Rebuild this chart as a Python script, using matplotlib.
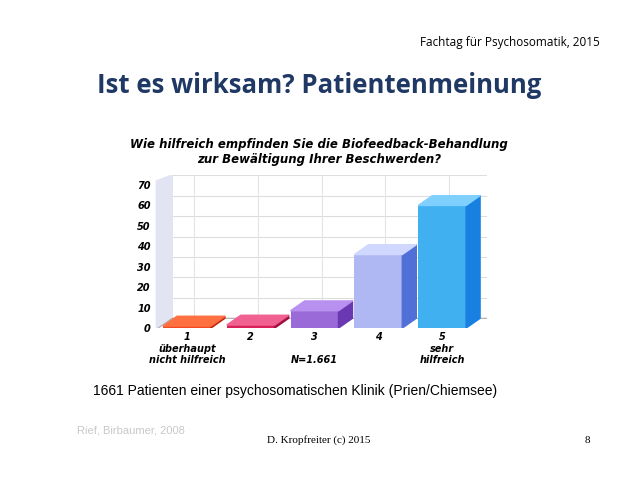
import matplotlib
matplotlib.use("Agg")
import matplotlib.pyplot as plt

categories = ["1\nüberhaupt\nnicht hilfreich", "2", "3\n\nN=1.661", "4", "5\nsehr\nhilfreich"]
values = [1.0, 1.5, 8.5, 36, 60]
yticks = [0, 10, 20, 30, 40, 50, 60, 70]
front = ["#f04a20", "#d8205a", "#9a6ad8", "#b0b8f4", "#40b0f0"]
side = ["#c02810", "#a01040", "#6a38b0", "#5070d8", "#1880e0"]
topc = ["#ff7040", "#f06090", "#b890f0", "#d0d8ff", "#80d0ff"]

fig = plt.figure(figsize=(6.38, 4.79), dpi=100)
fig.patch.set_facecolor("white")
fig.text(0.94, 0.905, "Fachtag für Psychosomatik, 2015", ha="right", fontsize=8.5, family="Open Sans")
fig.text(0.5, 0.805, "Ist es wirksam? Patientenmeinung", ha="center", fontsize=18.5,
         color="#1f3864", weight="bold", family="Open Sans")
fig.text(0.5, 0.66, "Wie hilfreich empfinden Sie die Biofeedback-Behandlung\nzur Bewältigung Ihrer Beschwerden?",
         ha="center", fontsize=8.5, weight="bold", style="italic", family="DejaVu Sans", linespacing=1.2)

ax = fig.add_axes([0.243, 0.315, 0.52, 0.32])
dx, dy, w = 0.22, 4.8, 0.75
x = list(range(1, 6))
ax.set_xlim(0.5, 5.7)
ax.set_ylim(0, 75)
for t in yticks[1:]:
    ax.plot([0.55 + dx, 5.7], [t + dy, t + dy], color="#dddddd", lw=0.8, zorder=0)
for xi in x:
    ax.plot([xi + dx * 0.5, xi + dx * 0.5], [dy, 75], color="#e4e4e4", lw=0.8, zorder=0)
ax.plot([0.55, 0.55 + dx, 5.7], [0, dy, dy], color="#aaaaaa", lw=0.8)
ax.fill([0.52, 0.55 + dx, 0.55 + dx, 0.52], [0, dy, 75, 72], color="#e2e4f4", zorder=0)
ax.bar(x, values, width=w, color=front, zorder=3)
for xi, v, s, tc in zip(x, values, side, topc):
    r = xi + w / 2
    l = xi - w / 2
    ax.fill([r, r + dx, r + dx, r], [0, dy, v + dy, v], color=s, zorder=3)
    ax.fill([l, l + dx, r + dx, r], [v, v + dy, v + dy, v], color=tc, zorder=3)
ax.set_yticks(yticks)
ax.set_yticklabels([str(t) for t in yticks], fontsize=7, weight="bold", style="italic")
ax.set_xticks(x)
ax.set_xticklabels(categories, fontsize=7, weight="bold", style="italic", va="top")
ax.tick_params(length=0, pad=3)
for sp in ax.spines.values():
    sp.set_visible(False)

fig.text(0.145, 0.175, "1661 Patienten einer psychosomatischen Klinik (Prien/Chiemsee)",
         fontsize=10, family="Liberation Sans")
fig.text(0.12, 0.095, "Rief, Birbaumer, 2008", fontsize=8, color="#c8c8c8", family="Liberation Sans")
fig.text(0.5, 0.075, "D. Kropfreiter (c) 2015", ha="center", fontsize=8, family="Liberation Serif")
fig.text(0.925, 0.075, "8", ha="right", fontsize=8, family="Liberation Serif")
fig.savefig("out.png", dpi=100)
